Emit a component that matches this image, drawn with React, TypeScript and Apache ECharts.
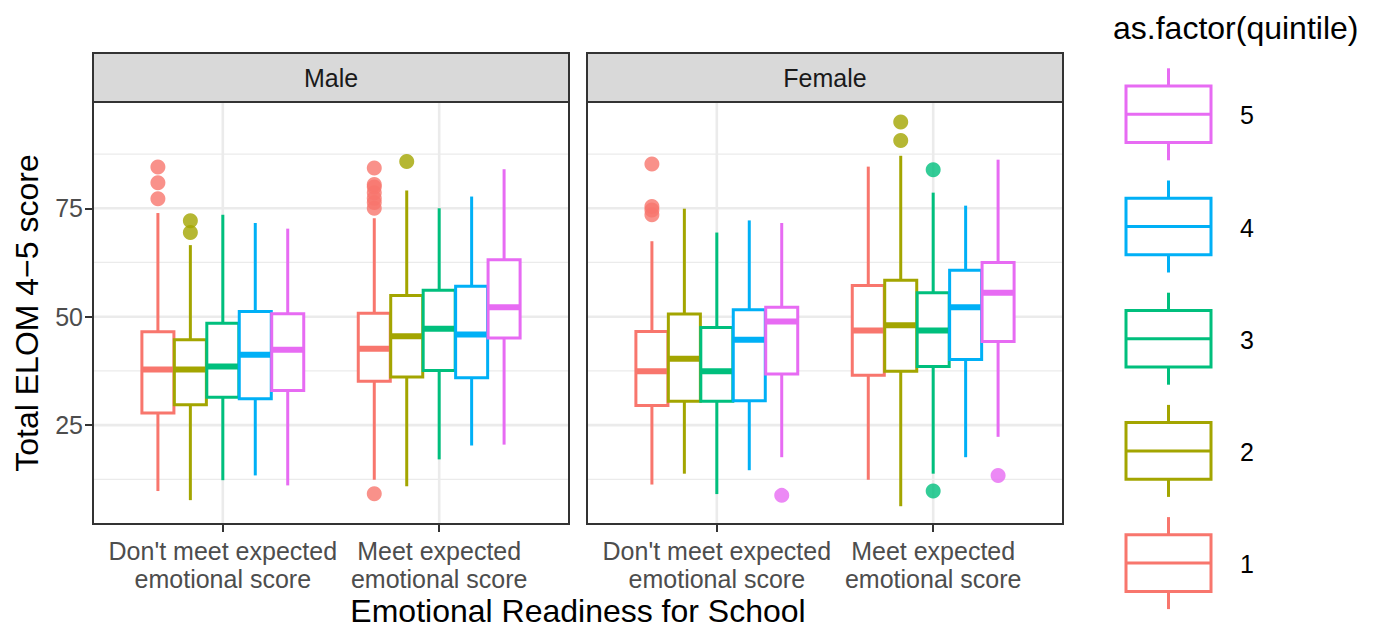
import React, { useEffect, useRef } from "react";
import * as echarts from "echarts";

// ---------- data ----------
const facets = ["Male", "Female"];
const categories = ["Don't meet expected\nemotional score", "Meet expected\nemotional score"];
const quintiles = ["1", "2", "3", "4", "5"];
const colors = ["#F8766D", "#A3A500", "#00BF7D", "#00B0F6", "#E76BF3"];
const yTicks = [25, 50, 75];
const yMinor = [12.5, 37.5, 62.5, 87.5];
const xTicks = [1, 2];

// each row: [lower whisker, Q1, median, Q3, upper whisker] for quintiles 1..5
const maleDontMeet = [
  [9.8, 27.8, 37.8, 46.5, 73.9],
  [7.7, 29.7, 37.8, 44.7, 66.5],
  [12.3, 31.4, 38.5, 48.5, 73.5],
  [13.4, 31.1, 41.2, 51.2, 71.6],
  [11.1, 33.0, 42.4, 50.7, 70.3],
];
const maleMeet = [
  [12.4, 35.1, 42.6, 50.8, 72.7],
  [10.9, 36.1, 45.5, 54.9, 79.1],
  [17.1, 37.6, 47.2, 56.1, 75.0],
  [20.3, 35.9, 45.9, 57.0, 77.7],
  [20.5, 45.1, 52.2, 63.1, 84.0],
];
const femaleDontMeet = [
  [11.3, 29.5, 37.4, 46.6, 67.4],
  [13.8, 30.5, 40.3, 50.6, 74.9],
  [9.1, 30.5, 37.4, 47.5, 69.4],
  [14.6, 30.6, 44.7, 51.6, 72.2],
  [17.6, 36.8, 48.9, 52.2, 71.6],
];
const femaleMeet = [
  [12.4, 36.5, 46.8, 57.2, 84.6],
  [6.3, 37.4, 48.0, 58.4, 87.1],
  [13.8, 38.5, 46.8, 55.5, 78.6],
  [17.6, 40.1, 52.2, 60.7, 75.6],
  [22.3, 44.3, 55.5, 62.5, 86.2],
];

// outliers per quintile 1..5
const maleDontMeetOutliers = [[77.2, 80.9, 84.5], [69.4, 72.1], [], [], []];
const maleMeetOutliers = [[9.2, 75.0, 76.3, 77.3, 78.6, 79.9, 80.5, 84.3], [85.8], [], [], []];
const femaleDontMeetOutliers = [[73.5, 74.6, 75.4, 85.2], [], [], [], [8.8]];
const femaleMeetOutliers = [[], [90.6, 94.9], [9.8, 83.9], [], [13.4]];

const facetStats = [
  [maleDontMeet, maleMeet],
  [femaleDontMeet, femaleMeet],
];
const facetOutliers = [
  [maleDontMeetOutliers, maleMeetOutliers],
  [femaleDontMeetOutliers, femaleMeetOutliers],
];

// ---------- layout ----------
const FONT = "'Liberation Sans', Arial, Helvetica, sans-serif";
const GRIDS = [
  { left: 93, top: 102, width: 476, height: 422 },
  { left: 587, top: 102, width: 476, height: 422 },
];
const DODGE = 0.15;
const BOX_W = 0.148;
const Y_MIN = 2.2;
const Y_MAX = 99.5;

function dodgeX(cat: number, q: number) {
  return cat + 1 + (q - 2) * DODGE;
}

function buildOption() {
  const series: any[] = [];

  GRIDS.forEach((_, gi) => {
    // grid lines
    const gridData: any[] = [
      ...yTicks.map((v) => [0, v, 1, 1.5, 50]),
      ...yMinor.map((v) => [0, v, 0, 1.5, 50]),
      ...xTicks.map((v) => [1, v, 1, 1.5, 50]),
    ];
    series.push({
      type: "custom",
      xAxisIndex: gi,
      yAxisIndex: gi,
      z: 1,
      silent: true,
      encode: { x: 3, y: 4 },
      data: gridData,
      renderItem: (params: any, api: any) => {
        const cs = params.coordSys;
        const kind = api.value(0);
        const v = api.value(1);
        const major = api.value(2);
        const style = { stroke: "#EBEBEB", lineWidth: major ? 2.6 : 1.3 };
        if (kind === 0) {
          const y = api.coord([1.5, v])[1];
          return { type: "line", shape: { x1: cs.x + 1, y1: y, x2: cs.x + cs.width - 1, y2: y }, style };
        }
        const x = api.coord([v, 50])[0];
        return { type: "line", shape: { x1: x, y1: cs.y + 1, x2: x, y2: cs.y + cs.height - 1 }, style };
      },
    });

    // boxes
    const boxData: any[] = [];
    facetStats[gi].forEach((catStats, ci) => {
      catStats.forEach((s, qi) => {
        boxData.push([dodgeX(ci, qi), s[0], s[1], s[2], s[3], s[4], qi]);
      });
    });
    series.push({
      type: "custom",
      name: facets[gi],
      xAxisIndex: gi,
      yAxisIndex: gi,
      z: 2,
      silent: true,
      encode: { x: 0, y: [1, 2, 3, 4, 5] },
      data: boxData,
      renderItem: (_params: any, api: any) => {
        const x = api.value(0);
        const qi = api.value(6);
        const c = colors[qi];
        const px = api.coord([x, 50])[0];
        const xl = api.coord([x - BOX_W / 2, 50])[0];
        const xr = api.coord([x + BOX_W / 2, 50])[0];
        const yLow = api.coord([x, api.value(1)])[1];
        const yQ1 = api.coord([x, api.value(2)])[1];
        const yMed = api.coord([x, api.value(3)])[1];
        const yQ3 = api.coord([x, api.value(4)])[1];
        const yHigh = api.coord([x, api.value(5)])[1];
        return {
          type: "group",
          children: [
            { type: "line", shape: { x1: px, y1: yLow, x2: px, y2: yQ1 }, style: { stroke: c, lineWidth: 3 } },
            { type: "line", shape: { x1: px, y1: yQ3, x2: px, y2: yHigh }, style: { stroke: c, lineWidth: 3 } },
            {
              type: "rect",
              shape: { x: xl, y: yQ3, width: xr - xl, height: yQ1 - yQ3 },
              style: { fill: "#ffffff", stroke: c, lineWidth: 3 },
            },
            { type: "line", shape: { x1: xl, y1: yMed, x2: xr, y2: yMed }, style: { stroke: c, lineWidth: 6 } },
          ],
        };
      },
    });

    // outliers
    const outData: any[] = [];
    facetOutliers[gi].forEach((catOut, ci) => {
      catOut.forEach((vals, qi) => {
        vals.forEach((v) => {
          outData.push({ value: [dodgeX(ci, qi), v], itemStyle: { color: colors[qi] } });
        });
      });
    });
    series.push({
      type: "scatter",
      xAxisIndex: gi,
      yAxisIndex: gi,
      z: 3,
      silent: true,
      symbol: "circle",
      symbolSize: 15,
      data: outData,
    });
  });

  // strips + legend + titles
  const graphics: any[] = [];
  GRIDS.forEach((g, gi) => {
    graphics.push({
      type: "rect",
      shape: { x: g.left, y: 53, width: g.width, height: 49 },
      style: { fill: "#D9D9D9", stroke: "#333333", lineWidth: 2 },
      z: 10,
    });
    graphics.push({
      type: "text",
      x: g.left + g.width / 2,
      y: 78,
      style: {
        text: facets[gi],
        fontSize: 25,
        fontFamily: FONT,
        fill: "#1A1A1A",
        textAlign: "center",
        textVerticalAlign: "middle",
      },
      z: 11,
    });
  });

  graphics.push({
    type: "text",
    x: (GRIDS[0].left + GRIDS[1].left + GRIDS[1].width) / 2,
    y: 611,
    style: {
      text: "Emotional Readiness for School",
      fontSize: 32,
      fontFamily: FONT,
      fill: "#000000",
      textAlign: "center",
      textVerticalAlign: "middle",
    },
  });

  graphics.push({
    type: "text",
    x: 1113,
    y: 28,
    style: {
      text: "as.factor(quintile)",
      fontSize: 32,
      fontFamily: FONT,
      fill: "#000000",
      textAlign: "left",
      textVerticalAlign: "middle",
    },
  });

  quintiles.forEach((label, qi) => {
    const cy = 114.3 + (4 - qi) * 112.2;
    const c = colors[qi];
    const bx = 1126;
    const bw = 85;
    const cx = bx + bw / 2;
    graphics.push({ type: "line", shape: { x1: cx, y1: cy - 46, x2: cx, y2: cy - 28.3 }, style: { stroke: c, lineWidth: 3 } });
    graphics.push({ type: "line", shape: { x1: cx, y1: cy + 28.3, x2: cx, y2: cy + 46 }, style: { stroke: c, lineWidth: 3 } });
    graphics.push({
      type: "rect",
      shape: { x: bx, y: cy - 28.3, width: bw, height: 56.6 },
      style: { fill: "#ffffff", stroke: c, lineWidth: 3 },
    });
    graphics.push({ type: "line", shape: { x1: bx, y1: cy, x2: bx + bw, y2: cy }, style: { stroke: c, lineWidth: 3 } });
    graphics.push({
      type: "text",
      x: 1240,
      y: cy + 1,
      style: {
        text: label,
        fontSize: 25,
        fontFamily: FONT,
        fill: "#000000",
        textAlign: "left",
        textVerticalAlign: "middle",
      },
    });
  });

  return {
    animation: false,
    backgroundColor: "#ffffff",
    textStyle: { fontFamily: FONT },
    grid: GRIDS.map((g) => ({
      ...g,
      show: true,
      backgroundColor: "#ffffff",
      borderColor: "#333333",
      borderWidth: 2,
      containLabel: false,
    })),
    xAxis: GRIDS.map((_, gi) => ({
      type: "value",
      gridIndex: gi,
      min: 0.4,
      max: 2.6,
      axisLine: { show: false },
      splitLine: { show: false },
      axisTick: { show: true, customValues: xTicks, length: 8, lineStyle: { color: "#333333", width: 2 } },
      axisLabel: {
        show: true,
        customValues: xTicks,
        formatter: (v: number) => categories[Math.round(v) - 1] ?? "",
        fontSize: 25,
        lineHeight: 28,
        color: "#4D4D4D",
        margin: 13,
        fontFamily: FONT,
      },
    })),
    yAxis: GRIDS.map((_, gi) => ({
      type: "value",
      gridIndex: gi,
      min: Y_MIN,
      max: Y_MAX,
      axisLine: { show: false },
      splitLine: { show: false },
      axisTick: {
        show: gi === 0,
        customValues: yTicks,
        length: 8,
        lineStyle: { color: "#333333", width: 2 },
      },
      axisLabel: {
        show: gi === 0,
        customValues: yTicks,
        fontSize: 25,
        color: "#4D4D4D",
        margin: 10,
        fontFamily: FONT,
      },
      name: gi === 0 ? "Total ELOM 4\u22125 score" : "",
      nameLocation: "middle",
      nameRotate: 90,
      nameGap: 50,
      nameTextStyle: { fontSize: 32, color: "#000000", fontFamily: FONT },
    })),
    series,
    graphic: graphics,
  };
}

export default function App() {
  const ref = useRef<HTMLDivElement>(null);
  useEffect(() => {
    if (!ref.current) return;
    const chart = echarts.init(ref.current, null, { renderer: "svg" });
    chart.setOption(buildOption() as any);
    return () => chart.dispose();
  }, []);
  return (
    <div
      ref={ref}
      style={{ position: "absolute", left: 0, top: 0, width: 1375, height: 628, background: "#ffffff" }}
    />
  );
}
